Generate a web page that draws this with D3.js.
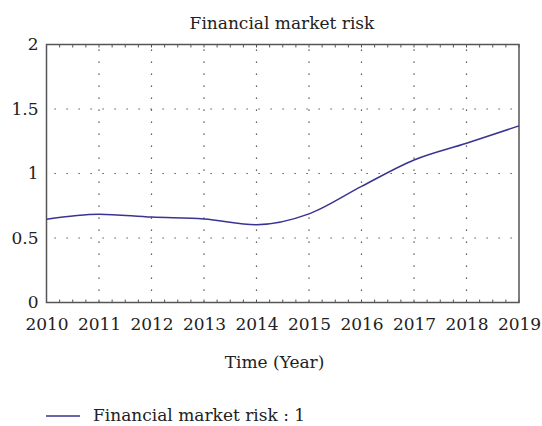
<!DOCTYPE html>
<html>
<head>
<meta charset="utf-8">
<script src="https://cdn.jsdelivr.net/npm/d3@7"></script>
<style>
  body { margin: 0; background: #fff; }
  text { font-family: "DejaVu Serif", serif; fill: #222; }
</style>
</head>
<body>
<div id="chart"></div>
<script>
// data
var years = [2010, 2011, 2012, 2013, 2014, 2015, 2016, 2017, 2018, 2019]
var risk = [0.646, 0.685, 0.662, 0.648, 0.603, 0.687, 0.9, 1.105, 1.235, 1.369]
var yTicks = [0, 0.5, 1, 1.5, 2]
var seriesName = "Financial market risk : 1"

var width = 542, height = 426
var margin = {left: 46.5, right: 23, top: 44.5, bottom: 123.5}

var svg = d3.select("#chart")
  .append("svg")
  .attr("width", width)
  .attr("height", height)

var x = d3.scaleLinear().domain([2010, 2019]).range([margin.left, width - margin.right])
var y = d3.scaleLinear().domain([0, 2]).range([height - margin.bottom, margin.top])

// dotted grid
svg.append("g")
  .selectAll("line")
  .data(years.slice(1, -1))
  .enter()
  .append("line")
    .attr("x1", d => x(d)).attr("x2", d => x(d))
    .attr("y1", y(2)).attr("y2", y(0))
    .attr("stroke", "#333")
    .attr("stroke-width", 1.2)
    .attr("stroke-dasharray", "1.2,10.8")
    .attr("stroke-dashoffset", -5)

svg.append("g")
  .selectAll("line")
  .data(yTicks.slice(1, -1))
  .enter()
  .append("line")
    .attr("x1", x(2010)).attr("x2", x(2019))
    .attr("y1", d => y(d)).attr("y2", d => y(d))
    .attr("stroke", "#333")
    .attr("stroke-width", 1.2)
    .attr("stroke-dasharray", "1.2,10.8")
    .attr("stroke-dashoffset", -8)

// minor ticks on top and bottom (quarter years)
var minor = d3.range(2010, 2019.001, 0.25)
svg.append("g")
  .selectAll("line")
  .data(minor)
  .enter()
  .append("line")
    .attr("x1", d => x(d)).attr("x2", d => x(d))
    .attr("y1", y(0)).attr("y2", y(0) - 3)
    .attr("stroke", "#555")
svg.append("g")
  .selectAll("line")
  .data(minor)
  .enter()
  .append("line")
    .attr("x1", d => x(d)).attr("x2", d => x(d))
    .attr("y1", y(2)).attr("y2", y(2) + 3)
    .attr("stroke", "#555")

// frame
svg.append("rect")
  .attr("x", x(2010)).attr("y", y(2))
  .attr("width", x(2019) - x(2010))
  .attr("height", y(0) - y(2))
  .attr("fill", "none")
  .attr("stroke", "#555")
  .attr("stroke-width", 1.5)

// x axis labels
var xAxis = d3.axisBottom(x).tickValues(years).tickFormat(d3.format("d")).tickSize(0).tickPadding(15)
var gx = svg.append("g")
  .attr("transform", "translate(0," + y(0) + ")")
  .call(xAxis)
gx.select(".domain").remove()
gx.attr("font-family", null)
gx.selectAll("text").style("font-size", "17px")

// y axis labels
var yAxis = d3.axisLeft(y).tickValues(yTicks).tickFormat(d => d).tickSize(0).tickPadding(8)
var gy = svg.append("g")
  .attr("transform", "translate(" + x(2010) + ",0)")
  .call(yAxis)
gy.select(".domain").remove()
gy.attr("font-family", null)
gy.selectAll("text").style("font-size", "17px")

// the line
var line = d3.line()
  .x((d, i) => x(years[i]))
  .y(d => y(d))
  .curve(d3.curveMonotoneX)

svg.append("path")
  .datum(risk)
  .attr("d", line)
  .attr("fill", "none")
  .attr("stroke", "#3a3391")
  .attr("stroke-width", 1.5)

// title
svg.append("text")
  .attr("x", 282)
  .attr("y", 29)
  .attr("text-anchor", "middle")
  .style("font-size", "17px")
  .text("Financial market risk")

// x axis title
svg.append("text")
  .attr("x", 274.5)
  .attr("y", 368)
  .attr("text-anchor", "middle")
  .style("font-size", "17px")
  .text("Time (Year)")

// legend
svg.append("line")
  .attr("x1", 46).attr("x2", 80)
  .attr("y1", 416).attr("y2", 416)
  .attr("stroke", "#3a3391")
  .attr("stroke-width", 1.5)
svg.append("text")
  .attr("x", 93)
  .attr("y", 421)
  .style("font-size", "17px")
  .text(seriesName)
</script>
</body>
</html>
